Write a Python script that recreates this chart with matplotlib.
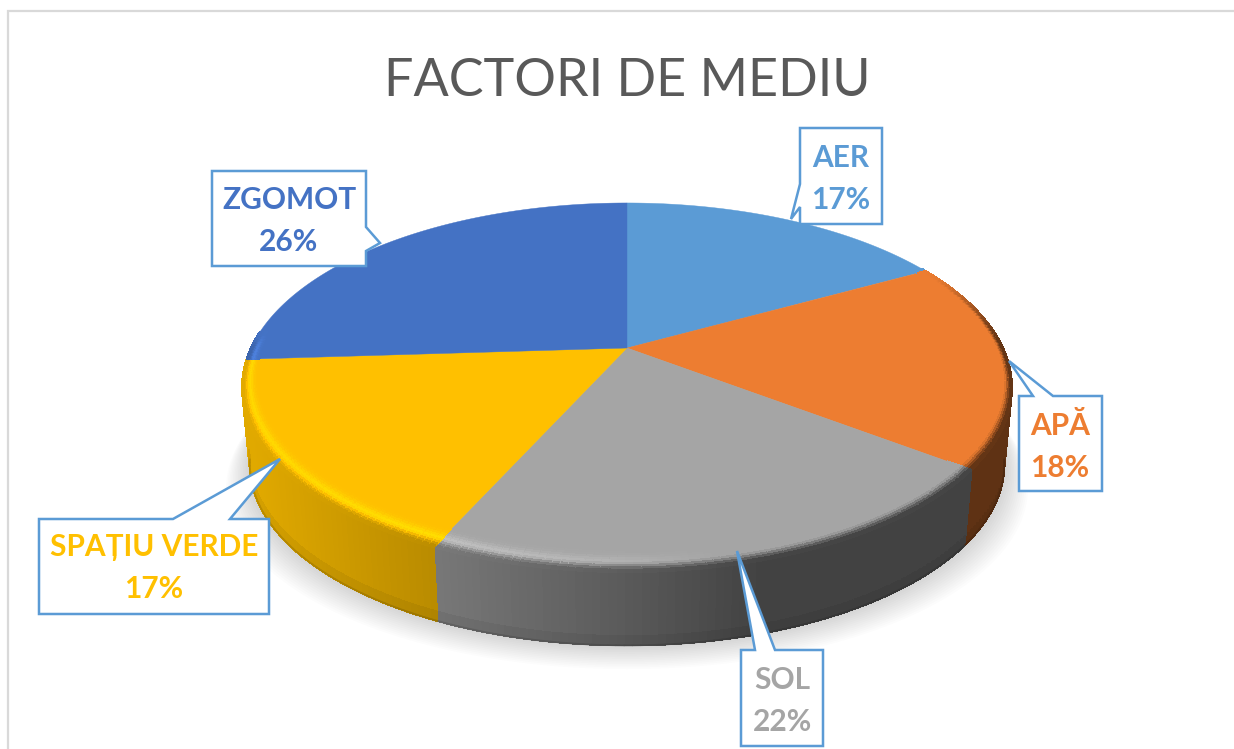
import matplotlib
matplotlib.use('Agg')
import matplotlib.pyplot as plt
import numpy as np
from matplotlib.collections import LineCollection, PolyCollection
from matplotlib.patches import Polygon

labels = ['AER', 'APĂ', 'SOL', 'SPAȚIU VERDE', 'ZGOMOT']
values = [17.0, 18.3, 21.5, 17.2, 26.0]
colors = ['#5B9BD5', '#ED7D31', '#A5A5A5', '#FFC000', '#4472C4']

# pie geometry in pixels (y goes down), perspective squeezes the back of the disc
cx, cy, rx = 627, 348, 376
yb, persp = -101.6, 0.214
shrink, depth, ymid = 0.98, 77, 390

# callout outlines, tail included
callouts = [
    [(800, 128), (882, 128), (882, 224), (800, 224), (800, 207), (791, 219), (800, 184)],
    [(1019, 396), (1033, 396), (1009, 361), (1053, 396), (1102, 396), (1102, 491), (1019, 491)],
    [(741, 650), (755, 650), (737, 551), (775, 650), (823, 650), (823, 746), (741, 746)],
    [(39, 519), (173, 519), (280, 459), (230, 519), (269, 519), (269, 614), (39, 614)],
    [(212, 171), (366, 171), (366, 227), (380, 243), (366, 251), (366, 266), (212, 266)],
]
label_pos = [(841, 179), (1060, 447), (782, 701), (154, 568), (289, 221)]


def project(theta, r=1.0):
    u, v = r * np.sin(theta), r * np.cos(theta)
    d = 1 + persp * v
    return cx + rx * u / d, (yb * v + cy) / d


def lower(x, y):
    return cx + shrink * (x - cx), ymid + shrink * (y - ymid) + depth


def side_factor(x):
    return np.interp(x, [250, 440, 620, 760, 1020], [0.88, 0.72, 0.55, 0.40, 0.40])


def smooth(t):
    t = np.clip(t, 0, 1)
    return t * t * (3 - 2 * t)


fig = plt.figure(figsize=(12.34, 7.49), dpi=100, facecolor='white')
ax = fig.add_axes([0, 0, 1, 1])
ax.set_xlim(0, 1234)
ax.set_ylim(749, 0)
ax.axis('off')
plt.rcParams['font.family'] = ['Lato', 'DejaVu Sans']

# frame of the pasted chart
ax.plot([8, 8, 1234], [749, 11, 11], color='#D9D9D9', lw=1.6, solid_joinstyle='miter')

ax.text(627, 96, 'FACTORI DE MEDIU', color='#595959', fontsize=37.5, ha='center', va='baseline')

angles = np.cumsum([0] + values) / sum(values) * 2 * np.pi
rgb = [np.array(matplotlib.colors.to_rgb(c)) for c in colors]

# soft shadow under the disc
ring = np.linspace(0, 2 * np.pi, 361)
sx, sy = lower(*project(ring))
for k in range(14, 0, -1):
    pts = np.column_stack([cx + (sx - cx) * (1 + k * 0.0045), sy + k * 1.7])
    ax.add_patch(Polygon(pts, fc='black', ec='none', alpha=0.011, zorder=1))

# side wall, only the part that faces the viewer
side_polys, side_cols = [], []
edge_segs, edge_cols = [], []
bands = np.linspace(0, 1, 9)
for i, c in enumerate(rgb):
    th = np.linspace(angles[i], angles[i + 1], max(int(np.degrees(angles[i + 1] - angles[i])), 2) + 1)
    for a, b in zip(th[:-1], th[1:]):
        if np.cos((a + b) / 2) > -persp + 0.02:
            continue
        xa, ya = project(a)
        xb, yb2 = project(b)
        xa2, ya2 = lower(xa, ya)
        xb2, yb3 = lower(xb, yb2)
        f = side_factor((xa + xb) / 2)
        for z0, z1 in zip(bands[:-1], bands[1:]):
            side_polys.append([(xa + (xa2 - xa) * z0, ya + (ya2 - ya) * z0),
                               (xb + (xb2 - xb) * z0, yb2 + (yb3 - yb2) * z0),
                               (xb + (xb2 - xb) * z1, yb2 + (yb3 - yb2) * z1),
                               (xa + (xa2 - xa) * z1, ya + (ya2 - ya) * z1)])
            dark = 1 - 0.18 * smooth(((z0 + z1) / 2 - 0.9) / 0.1)
            side_cols.append(np.clip(c * f * dark, 0, 1))
        edge_segs.append([(xa2, ya2), (xb2, yb3)])
        edge_cols.append(np.clip(c * f * 0.82, 0, 1))
ax.add_collection(PolyCollection(side_polys, facecolors=side_cols, edgecolors='face', linewidths=0.8,
                                 antialiaseds=False, zorder=2))
ax.add_collection(LineCollection(edge_segs, colors=edge_cols, linewidths=1.2, capstyle='round', zorder=2.5))

# flat top of every slice
for i, c in enumerate(rgb):
    th = np.linspace(angles[i], angles[i + 1], 120)
    x, y = project(th)
    pts = np.column_stack([np.r_[cx, x], np.r_[cy, y]])
    ax.add_patch(Polygon(pts, fc=c, ec=c, lw=0.3, zorder=3))

# bevel along the rim, light on the left and dark on the right
bev_polys, bev_cols = [], []
steps = np.linspace(0, 1, 11)
for i, c in enumerate(rgb):
    th = np.linspace(angles[i], angles[i + 1], max(int(np.degrees(angles[i + 1] - angles[i])), 2) + 1)
    for a, b in zip(th[:-1], th[1:]):
        mid = (a + b) / 2
        v = np.cos(mid)
        # the bevel runs out quickly at the back left, slowly at the back right
        fade = 1 - smooth(v / 0.5) if np.sin(mid) > 0 else 1 - smooth(v / 0.1)
        if fade <= 0:
            continue
        r0 = 1 - (0.03 + 0.05 * max(0, -v))
        xm, _ = project(mid)
        f = side_factor(xm)
        hl = np.interp(xm, [245, 445, 620, 720, 1020], [0.13, 0.16, 0.08, 0, 0])
        for t0, t1 in zip(steps[:-1], steps[1:]):
            t = (t0 + t1) / 2
            ra, rb = r0 + (1 - r0) * t0, r0 + (1 - r0) * t1
            xy = [project(a, ra), project(b, ra), project(b, rb), project(a, rb)]
            w = smooth((t - 0.55) / 0.45)
            col = c * (1 + fade * hl * np.exp(-((t - 0.6) / 0.25) ** 2))
            col = col * (1 - w * fade) + c * f * w * fade
            bev_polys.append(xy)
            bev_cols.append(np.clip(col, 0, 1))
ax.add_collection(PolyCollection(bev_polys, facecolors=bev_cols, edgecolors='face', linewidths=0.8,
                                 antialiaseds=False, zorder=4))

# data labels in their callouts
for name, val, col, outline, pos in zip(labels, values, colors, callouts, label_pos):
    ax.add_patch(Polygon(outline, closed=True, fc='white', ec='#5B9BD5', lw=1.8, joinstyle='miter', zorder=5))
    ax.text(pos[0], pos[1], f'{name}\n{val:.0f}%', color=col, fontsize=21.5, fontweight='bold',
            ha='center', va='center', linespacing=1.6, zorder=6)

fig.savefig('out.png', dpi=100, facecolor='white')
